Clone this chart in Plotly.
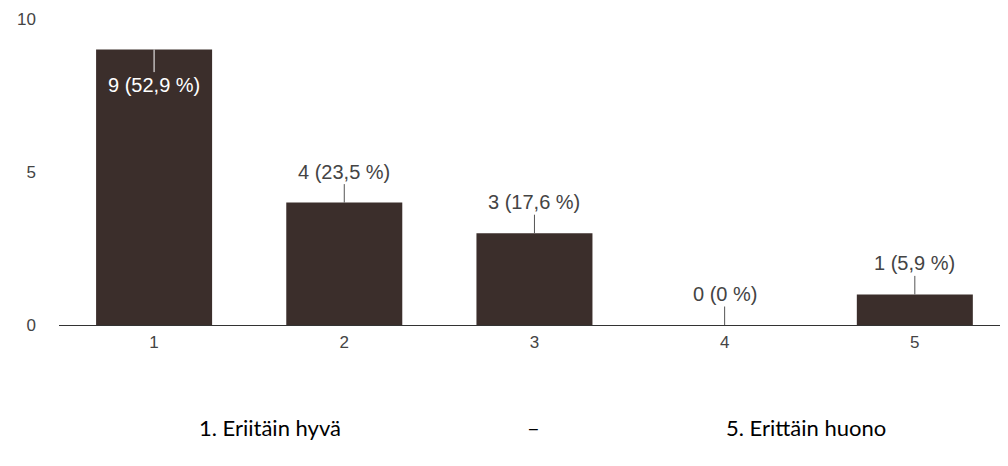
import plotly.graph_objects as go

categories = [1, 2, 3, 4, 5]
counts = [9, 4, 3, 0, 1]
labels = ["9 (52,9 %)", "4 (23,5 %)", "3 (17,6 %)", "0 (0 %)", "1 (5,9 %)"]
y_ticks = [0, 5, 10]
scale_left = "1. Eriitäin hyvä"
scale_mid = "–"
scale_right = "5. Erittäin huono"

W, H = 1008, 466
OFF = 8  # page body margin
ML, MR, MT, MB = 51, 0, 11, 149

fig = go.Figure()
fig.add_trace(go.Bar(
    x=categories, y=counts, width=0.61,
    marker=dict(color="#3b2e2b", line=dict(width=0)),
    hoverinfo="skip",
))

for c, v, t in zip(categories, counts, labels):
    inside = v >= 8.5
    fig.add_annotation(
        x=c, y=v, xref="x", yref="y", text=t,
        showarrow=True, arrowhead=0, arrowwidth=1,
        arrowcolor="#ffffff" if inside else "#555555",
        ax=0, ay=35 if inside else -31,
        font=dict(family="Liberation Sans, Arial, sans-serif", size=20,
                  color="#ffffff" if inside else "#444444"),
    )

pw = W - ML - MR
ph = H - MT - MB
def px2paper(px):
    return (px - OFF - ML) / pw

for txt, cx in [(scale_left, 270), (scale_mid, 533), (scale_right, 806)]:
    fig.add_annotation(
        x=px2paper(cx), y=-((427 - OFF) - (H - MB)) / ph,
        xref="paper", yref="paper", text=txt, showarrow=False,
        xanchor="center", yanchor="middle",
        font=dict(family="Lato, Carlito, sans-serif", size=22, color="#000000"),
    )

fig.update_layout(
    width=W, height=H,
    margin=dict(l=ML, r=MR, t=MT, b=MB),
    paper_bgcolor="#ffffff", plot_bgcolor="#ffffff",
    showlegend=False,
    font=dict(family="Liberation Sans, Arial, sans-serif", size=17, color="#444444"),
)
fig.update_xaxes(
    range=[0.5, 5.532], tickmode="array", tickvals=categories,
    ticktext=[str(c) for c in categories],
    showline=True, linecolor="#333333", linewidth=1,
    showgrid=False, zeroline=False, ticks="", ticklabelstandoff=2,
    tickfont=dict(size=17, color="#444444"),
)
fig.update_yaxes(
    range=[0, 10], tickmode="array", tickvals=y_ticks,
    showgrid=False, zeroline=False, showline=False, ticks="",
    ticklabelstandoff=22,
    tickfont=dict(size=17, color="#444444"),
)

fig.write_html("out.html")
